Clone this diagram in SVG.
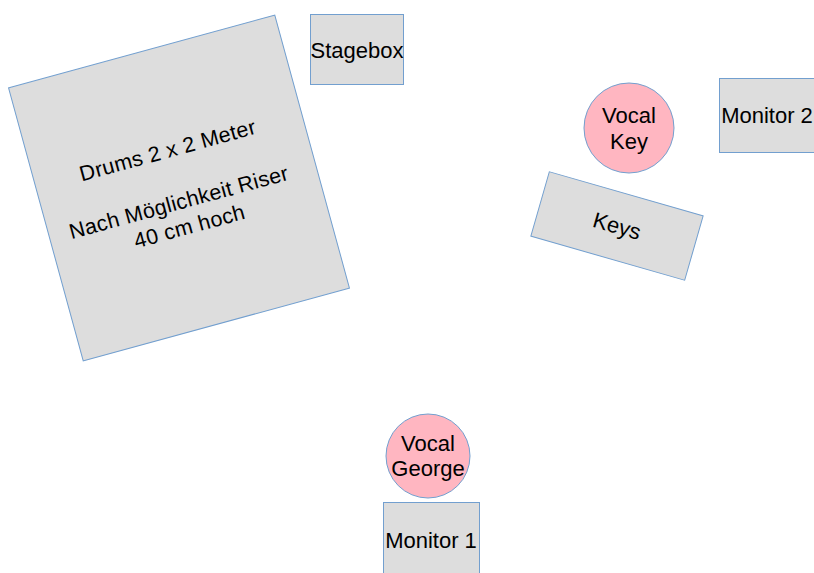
<svg xmlns="http://www.w3.org/2000/svg" width="814" height="573" viewBox="0 0 814 573">
<style>
.box{fill:#dddddd;stroke:#729fcf;stroke-width:1}
.voc{fill:#ffb6c1;stroke:#729fcf;stroke-width:1}
text{font-family:"Liberation Sans",Arial,sans-serif;font-size:22px;fill:#000;text-anchor:middle}
.dr{font-size:21.5px;letter-spacing:0.3px}
</style>
<rect width="814" height="573" fill="#ffffff"/>
<g id="connectors"></g>
<g id="drums" transform="translate(179,188) rotate(-15.3)">
<rect class="box" x="-138" y="-141.5" width="276" height="283"/>
<text class="dr" x="-1" y="-32">Drums 2 x 2 Meter</text>
<text class="dr" x="-4" y="21">Nach Möglichkeit Riser</text>
<text class="dr" x="0" y="47">40 cm hoch</text>
</g>
<g id="stagebox">
<rect class="box" x="310.5" y="14.5" width="93" height="70"/>
<text x="357" y="57.5">Stagebox</text>
</g>
<g id="vocal-key">
<circle class="voc" cx="629" cy="128" r="45"/>
<text x="629" y="123">Vocal</text>
<text x="629" y="149">Key</text>
</g>
<g id="monitor2">
<rect class="box" x="719.5" y="78.5" width="97" height="74"/>
<text x="767" y="123">Monitor 2</text>
</g>
<g id="keys" transform="translate(617,226) rotate(16)">
<rect class="box" x="-80" y="-33.5" width="160" height="67"/>
<text x="0" y="7.5">Keys</text>
</g>
<g id="vocal-george">
<circle class="voc" cx="428" cy="456" r="42"/>
<text x="428" y="451">Vocal</text>
<text x="428" y="476">George</text>
</g>
<g id="monitor1">
<rect class="box" x="383.5" y="502.5" width="96" height="80"/>
<text x="431" y="548">Monitor 1</text>
</g>
</svg>
